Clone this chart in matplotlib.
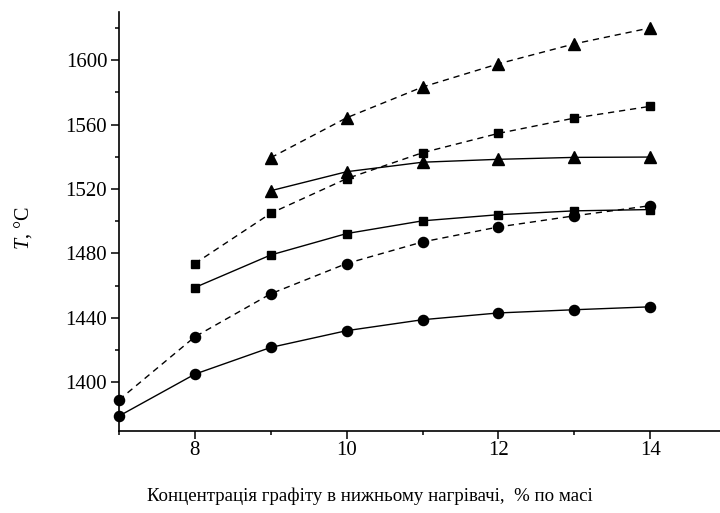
import matplotlib
matplotlib.use("Agg")
import matplotlib.pyplot as plt
from matplotlib.ticker import MultipleLocator

plt.rcParams['font.family'] = ['Liberation Serif', 'DejaVu Serif']
plt.rcParams['mathtext.fontset'] = 'custom'
plt.rcParams['mathtext.it'] = 'Liberation Serif:italic'
plt.rcParams['mathtext.rm'] = 'Liberation Serif'

x_circle = [7, 8, 9, 10, 11, 12, 13, 14]
circle_solid = [1379, 1405, 1421.6, 1432, 1438.8, 1443, 1445, 1446.8]
circle_dashed = [1389, 1428.2, 1454.9, 1473.7, 1487.1, 1496.4, 1503.3, 1509.6]

x_square = [8, 9, 10, 11, 12, 13, 14]
square_solid = [1458.8, 1479, 1492.3, 1500.2, 1504, 1506.4, 1507.2]
square_dashed = [1473.7, 1504.9, 1526.4, 1542.5, 1554.5, 1564, 1571.3]

x_triangle = [9, 10, 11, 12, 13, 14]
triangle_solid = [1518.9, 1530.7, 1536.6, 1538.4, 1539.6, 1539.8]
triangle_dashed = [1539.4, 1564.2, 1583.3, 1597.7, 1610.1, 1620]

xlabel = "Концентрація графіту в нижньому нагрівачі,  % по масі"
ylabel = r"$\mathit{T}$, °C"

fig = plt.figure(figsize=(7.2, 5.13), dpi=100)
ax = fig.add_axes([0.1653, 0.1608, 0.8347, 0.8162])

dash = (0, (4.5, 3.5))
kw = dict(color='black', lw=1.0, clip_on=False)
ax.plot(x_circle, circle_solid, marker='o', ms=7.3, ls='-', **kw)
ax.plot(x_circle, circle_dashed, marker='o', ms=7.3, ls=dash, **kw)
ax.plot(x_square, square_solid, marker='s', ms=6.2, ls='-', **kw)
ax.plot(x_square, square_dashed, marker='s', ms=6.2, ls=dash, **kw)
ax.plot(x_triangle, triangle_solid, marker='^', ms=8, ls='-', **kw)
ax.plot(x_triangle, triangle_dashed, marker='^', ms=8, ls=dash, **kw)

ax.set_xlim(7, 14.92)
ax.set_ylim(1370, 1630)
ax.xaxis.set_major_locator(MultipleLocator(2))
ax.xaxis.set_minor_locator(MultipleLocator(1))
ax.yaxis.set_major_locator(MultipleLocator(40))
ax.yaxis.set_minor_locator(MultipleLocator(20))
ax.spines['top'].set_visible(False)
ax.spines['right'].set_visible(False)
for s in ('left', 'bottom'):
    ax.spines[s].set_linewidth(1.2)
ax.tick_params(which='major', direction='out', length=5.5, width=1.1, labelsize=15)
ax.tick_params(which='minor', direction='out', length=2.8, width=1.1)
ax.tick_params(axis='x', which='major', pad=2)
ax.tick_params(axis='y', which='major', pad=3)

fig.text(0.514, 0.033, xlabel, ha='center', va='center', fontsize=13.6)
fig.text(0.032, 0.555, ylabel, ha='center', va='center', fontsize=14.5, rotation=90)

fig.savefig("out.png", dpi=100)
